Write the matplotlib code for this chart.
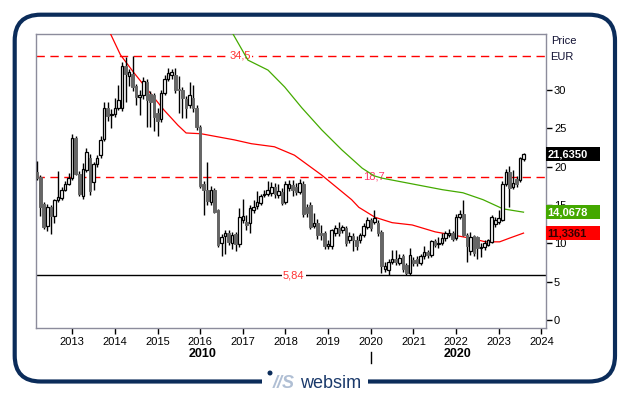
import numpy as np
import pandas as pd
import matplotlib
matplotlib.use("Agg")
import matplotlib.pyplot as plt
from matplotlib.patches import Rectangle, FancyBboxPatch, Circle
import matplotlib.transforms as mtransforms

plt.rcParams['font.family'] = ['Liberation Sans', 'DejaVu Sans']

# monthly candles, Mar 2012 .. Aug 2023
opens = [19.3, 18.7, 15.2, 12.3, 14.8, 13.6, 15.6, 15.9, 17.0, 17.8, 18.5, 23.7, 19.1, 16.2, 19.6, 21.2, 18.0, 20.4,
         21.5, 23.6, 27.6, 26.7, 26.9, 27.7, 27.6, 33.2, 31.8, 32.1, 30.5, 29.1, 29.3, 31.1, 29.5, 29.3, 27.0, 26.2,
         29.6, 31.5, 32.0, 31.9, 30.2, 30.0, 28.8, 28.0, 29.0, 27.7, 25.2, 17.7, 17.0, 15.4, 16.9, 14.3, 10.1, 10.9,
         11.4, 10.1, 11.2, 9.9, 13.0, 12.8, 12.6, 14.3, 14.9, 15.3, 16.3, 16.5, 16.6, 17.4, 16.3, 16.7, 15.4, 17.2,
         17.6, 17.4, 16.7, 17.8, 14.7, 15.0, 12.3, 12.6, 11.3, 11.3, 9.6, 9.6, 11.3, 12.0, 11.7, 12.0, 10.4, 10.9,
         10.5, 10.4, 11.1, 12.2, 13.0, 12.8, 12.6, 11.5, 6.7, 6.5, 7.6, 8.0, 7.5, 8.3, 7.2, 6.2, 7.8, 7.9, 7.5, 8.3,
         8.9, 8.5, 10.3, 9.9, 10.0, 10.7, 11.1, 11.3, 10.7, 13.5, 13.8, 11.1, 9.0, 10.9, 10.8, 9.4, 9.5, 9.8, 10.2,
         12.5, 12.8, 13.1, 17.8, 19.3, 17.4, 18.4, 18.3, 21.0]
highs = [20.7, 18.9, 15.4, 15.2, 15.0, 15.8, 19.5, 17.4, 18.1, 19.2, 24.3, 24.0, 19.4, 20.5, 22.4, 21.6, 20.6, 21.5,
         24.0, 28.4, 28.5, 27.5, 29.0, 30.6, 33.7, 34.3, 32.8, 34.4, 30.8, 30.0, 31.7, 31.4, 29.9, 29.6, 27.6, 30.0,
         31.9, 32.9, 32.7, 32.9, 31.8, 30.4, 29.2, 31.0, 30.7, 28.0, 25.4, 18.2, 20.6, 17.5, 17.2, 14.5, 11.2, 11.8,
         11.8, 11.5, 11.5, 14.6, 15.8, 13.7, 15.0, 15.6, 16.8, 16.5, 17.0, 18.1, 18.0, 17.9, 17.8, 17.2, 18.1, 18.3,
         18.3, 17.9, 18.4, 18.1, 15.2, 15.4, 13.9, 13.2, 12.4, 11.6, 10.4, 11.9, 12.4, 12.8, 12.4, 12.3, 11.5, 11.3,
         10.9, 11.4, 12.6, 13.4, 13.3, 14.3, 13.0, 11.8, 7.6, 7.9, 9.2, 9.2, 8.6, 8.6, 7.5, 9.4, 8.2, 8.3, 8.6, 9.6,
         9.2, 10.5, 10.6, 10.8, 11.3, 11.6, 11.9, 11.6, 13.8, 14.4, 15.7, 11.3, 11.5, 11.1, 11.0, 10.1, 10.4, 10.6,
         13.7, 13.4, 14.3, 18.1, 19.7, 20.1, 19.6, 18.8, 21.3, 21.8]
lows = [18.3, 13.6, 11.9, 11.6, 11.2, 12.6, 15.4, 15.7, 16.8, 17.6, 18.3, 18.9, 16.2, 15.8, 19.3, 16.3, 17.0, 20.0,
        21.2, 23.4, 26.0, 25.0, 26.5, 27.4, 27.3, 28.5, 30.5, 29.9, 28.0, 26.8, 28.8, 25.2, 25.2, 24.7, 24.0, 25.8,
        29.3, 31.2, 31.4, 29.6, 27.0, 26.3, 26.3, 27.6, 27.2, 24.8, 17.2, 13.7, 15.0, 15.0, 13.9, 9.5, 8.3, 8.6,
        9.8, 9.3, 9.0, 9.5, 12.7, 11.8, 11.4, 13.9, 14.5, 15.0, 16.0, 16.2, 16.2, 15.9, 15.9, 15.0, 15.1, 16.8,
        16.2, 16.3, 16.4, 13.5, 13.5, 11.9, 12.0, 10.6, 10.4, 9.3, 9.3, 9.3, 11.0, 11.0, 11.3, 9.7, 10.0, 9.0,
        9.2, 10.1, 10.8, 11.9, 11.6, 12.5, 11.0, 6.2, 6.3, 5.84, 7.3, 7.2, 7.2, 6.3, 5.9, 5.9, 7.0, 7.1, 7.2, 8.0,
        8.1, 8.2, 9.5, 9.4, 9.8, 10.3, 10.8, 10.3, 10.4, 13.2, 11.0, 7.6, 8.5, 8.3, 7.9, 8.2, 9.2, 9.6, 10.0,
        12.2, 12.5, 12.9, 17.5, 14.7, 17.1, 17.4, 18.0, 20.8]
closes = [18.5, 14.8, 12.2, 14.8, 13.6, 15.6, 16.1, 17.0, 17.8, 18.5, 23.7, 19.1, 16.5, 19.7, 21.9, 16.8, 20.3, 21.2,
          23.5, 27.6, 26.6, 26.9, 27.7, 28.7, 33.1, 32.1, 32.4, 30.4, 29.1, 29.3, 31.2, 28.7, 28.4, 26.5, 26.0, 29.6,
          31.5, 32.2, 32.3, 30.0, 30.0, 28.9, 27.7, 29.3, 27.7, 25.2, 17.5, 17.0, 15.5, 16.9, 14.1, 9.8, 10.8, 11.3,
          10.2, 11.1, 9.9, 13.5, 13.6, 12.4, 14.6, 14.7, 15.4, 16.2, 16.5, 16.9, 17.4, 16.5, 16.8, 15.3, 17.8, 17.7,
          17.0, 16.7, 17.9, 13.8, 14.0, 12.2, 12.7, 11.1, 11.1, 9.7, 9.9, 11.7, 12.0, 11.3, 12.1, 10.0, 10.9, 10.4,
          9.6, 11.1, 12.3, 13.0, 12.0, 13.3, 11.3, 7.0, 7.0, 7.6, 8.0, 7.6, 8.1, 6.6, 6.2, 8.5, 7.5, 7.4, 8.3, 8.9,
          8.5, 10.3, 9.8, 10.0, 10.7, 11.3, 11.4, 10.6, 13.5, 13.8, 11.1, 9.7, 10.8, 8.7, 9.4, 9.5, 10.0, 10.4, 13.5,
          13.0, 13.3, 17.8, 19.3, 17.2, 17.9, 17.7, 21.1, 21.635]
dates = pd.date_range("2012-03-01", periods=len(closes), freq="MS")

# moving averages (decimal year, value)
ma_red_t = [2013.90, 2014.13, 2014.44, 2015.15, 2015.48, 2015.67, 2016.02, 2016.80, 2017.20, 2017.74, 2018.21,
            2018.85, 2019.55, 2019.72, 2020.10, 2020.50, 2020.97, 2021.51, 2021.91, 2022.31, 2022.69, 2023.02,
            2023.26, 2023.58]
ma_red_v = [37.3, 34.6, 32.3, 27.4, 25.4, 24.4, 24.3, 23.5, 23.0, 22.6, 21.5, 18.9, 15.7, 14.7, 13.4, 12.7, 12.4,
            11.5, 11.1, 10.7, 10.2, 10.2, 10.7, 11.34]
ma_green_t = [2016.77, 2017.12, 2017.59, 2017.98, 2018.38, 2018.85, 2019.32, 2019.80, 2020.08, 2020.27, 2020.74,
              2021.21, 2021.68, 2022.16, 2022.63, 2023.10, 2023.58]
ma_green_v = [37.3, 33.9, 32.6, 30.4, 27.7, 24.8, 22.2, 19.8, 18.8, 18.5, 18.0, 17.5, 17.0, 16.6, 15.7, 14.5, 14.07]

levels = [34.5, 18.7, 5.84]
level_labels = ["34,5", "18,7", "5,84"]
level_label_x = [2016.94, 2020.08, 2018.19]
yticks = [0, 5, 10, 15, 20, 25, 30]
xticks = list(range(2013, 2025))

x = np.array(dates.year + (dates.month - 1) / 12.0)
o = np.array(opens); h = np.array(highs); l = np.array(lows); c = np.array(closes)

fig = plt.figure(figsize=(6.29, 3.95), dpi=100)
ax = fig.add_axes([35.7 / 629, 1 - 327.7 / 395, 510 / 629, 293.4 / 395])
ax.set_xlim(2012.144, 2024.10)
ax.set_ylim(-1.0, 37.27)

# reference lines
ax.axhline(levels[0], color='#ff0000', lw=1, dashes=(6, 4), zorder=1)
ax.axhline(levels[1], color='#ff0000', lw=1, dashes=(6, 4), zorder=1)
ax.axhline(levels[2], color='black', lw=1, zorder=1)
lab_col = ['#ff3333', '#ff3366', '#ff3333']
for lv, lt, lx, cc in zip(levels, level_labels, level_label_x, lab_col):
    ax.text(lx, lv, lt, color=cc, fontsize=8, ha='center', va='center', zorder=2,
            bbox=dict(facecolor='white', edgecolor='none', pad=1.0))

# moving averages
ax.plot(ma_red_t, ma_red_v, color='#ff0000', lw=0.9, zorder=3)
ax.plot(ma_green_t, ma_green_v, color='#44aa00', lw=0.9, zorder=3)

# candles
w = 0.06
ax.vlines(x, l, h, color='black', lw=1.0, zorder=4)
for xi, oi, ci in zip(x, o, c):
    lo, hi = min(oi, ci), max(oi, ci)
    if ci >= oi:
        ax.add_patch(Rectangle((xi - w / 2, lo), w, max(hi - lo, 0.12), facecolor='white',
                               edgecolor='black', lw=0.9, zorder=5))
    else:
        ax.add_patch(Rectangle((xi - w / 2, lo), w, max(hi - lo, 0.12), facecolor='#666666',
                               edgecolor='#666666', lw=0.7, zorder=5))

for s in ax.spines.values():
    s.set_color('#8c8c9c')
    s.set_linewidth(1)
ax.yaxis.tick_right()
ax.set_yticks(yticks)
ax.set_xticks(xticks)
ax.set_xticklabels([str(t) for t in xticks])
ax.tick_params(axis='both', direction='out', length=4, width=1, color='black', labelsize=8, pad=2)
ax.tick_params(axis='x', pad=3)

# decade labels and separator
fig.text(202.7 / 629, 1 - 354 / 395, "2010", fontsize=9, fontweight='bold', ha='center', va='center')
fig.text(457.7 / 629, 1 - 354 / 395, "2020", fontsize=9, fontweight='bold', ha='center', va='center')
trans = mtransforms.blended_transform_factory(ax.transData, fig.transFigure)
ax.plot([2020.0, 2020.0], [1 - 352 / 395, 1 - 363 / 395], color='black', lw=1, transform=trans, clip_on=False)

# right side header
fig.text(551 / 629, 1 - 41 / 395, "Price", fontsize=8, ha='left', va='center', color='#111133')
fig.text(550 / 629, 1 - 57 / 395, "EUR", fontsize=8, ha='left', va='center', color='#111133')

# value boxes
btrans = mtransforms.blended_transform_factory(ax.transAxes, ax.transData)
boxw = 54.3 / 510
boxh = 13.5 / 7.667
for val, txt, fc, tc in [(21.635, "21,6350", 'black', 'white'),
                         (14.0678, "14,0678", '#44a800', 'white'),
                         (11.3361, "11,3361", '#ff0000', '#330000')]:
    ax.add_patch(Rectangle((1.0, val - boxh / 2), boxw, boxh, transform=btrans, facecolor=fc,
                           edgecolor='none', clip_on=False, zorder=10))
    ax.text(1.0 + 2 / 510, val, txt, transform=btrans, color=tc, fontsize=8, fontweight='bold',
            ha='left', va='center', clip_on=False, zorder=11)

# outer frame with logo
frame = FancyBboxPatch((0.147, 0.135), 6.003, 3.668, boxstyle="round,pad=0,rounding_size=0.26",
                       transform=fig.dpi_scale_trans, facecolor='none', edgecolor='#0b2c5a', lw=3.0)
fig.patches.append(frame)
fig.patches.append(Rectangle((2.62, 0.06), 1.06, 0.14, transform=fig.dpi_scale_trans,
                             facecolor='white', edgecolor='none'))
fig.patches.append(Circle((2.70, 0.22), 0.025, transform=fig.dpi_scale_trans, facecolor='#0b2c5a',
                          edgecolor='none'))
fig.text(2.73 / 6.29, 0.115 / 3.95, "//S", fontsize=13, fontweight='bold', fontstyle='italic',
         color='#b0bfd4', ha='left', va='center')
fig.text(3.00 / 6.29, 0.115 / 3.95, "websim", fontsize=13, color='#1b3a6b', ha='left', va='center')

fig.savefig("out.png", dpi=100)
